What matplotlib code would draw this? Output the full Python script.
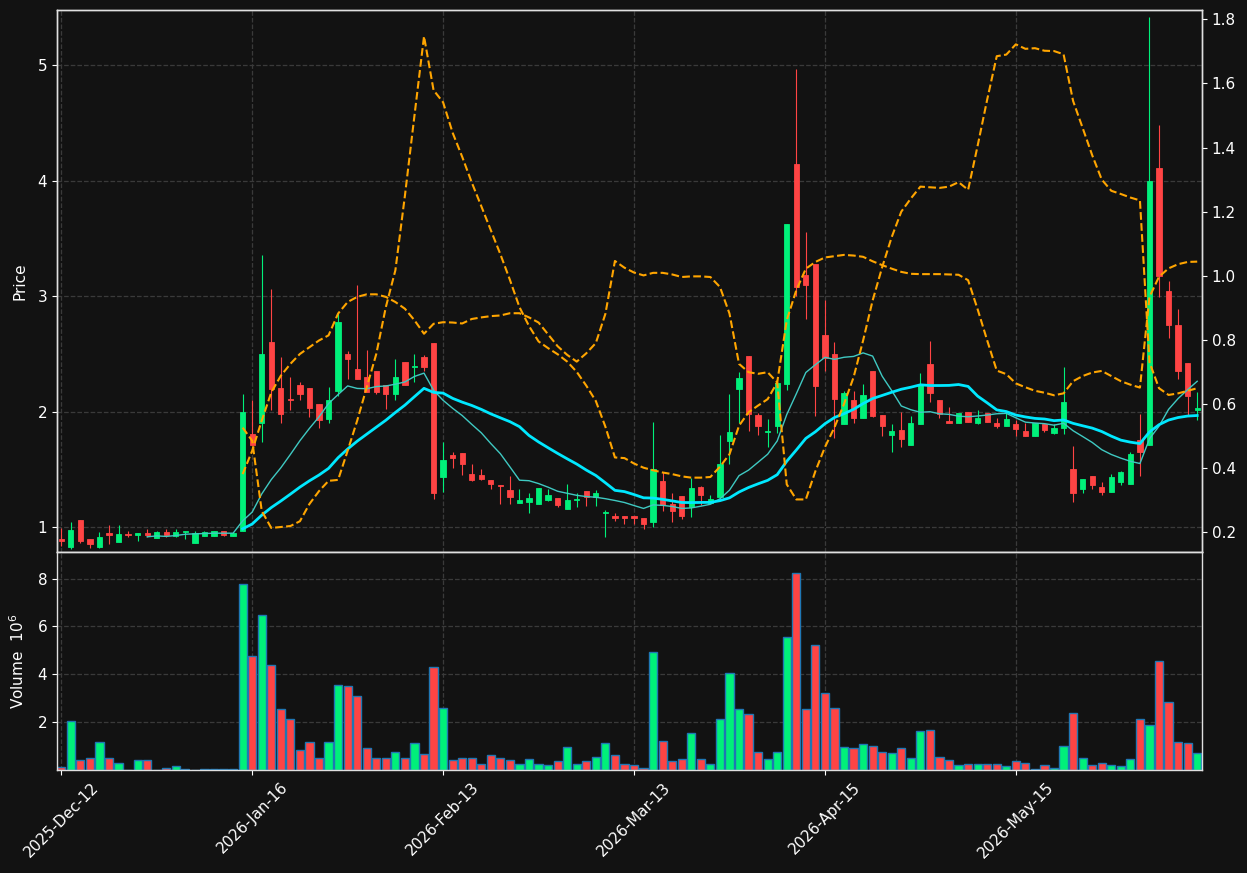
import numpy as np
import pandas as pd
import matplotlib
matplotlib.use("Agg")
import matplotlib.pyplot as plt

# ---------------- data ----------------
tick_labels = ['2025-Dec-12', '2026-Jan-16', '2026-Feb-13', '2026-Mar-13', '2026-Apr-15', '2026-May-15']
tick_bars = [0, 20, 40, 60, 80, 100]

opens = [0.898, 0.828, 1.061, 0.895, 0.828, 0.948, 0.872, 0.939, 0.933, 0.948,
         0.907, 0.956, 0.924, 0.958, 0.863, 0.924, 0.924, 0.965, 0.924, 0.968,
         1.808, 1.898, 2.605, 2.206, 2.105, 2.232, 2.206, 2.068, 1.938, 2.180,
         2.501, 2.371, 2.302, 2.354, 2.232, 2.157, 2.431, 2.388, 2.475, 2.596,
         1.439, 1.621, 1.642, 1.462, 1.448, 1.412, 1.362, 1.324, 1.206, 1.215,
         1.200, 1.236, 1.253, 1.159, 1.233, 1.312, 1.265, 1.121, 1.097, 1.097,
         1.097, 1.081, 1.046, 1.401, 1.202, 1.271, 1.173, 1.346, 1.207, 1.265,
         1.749, 2.196, 2.481, 1.968, 1.824, 1.879, 2.242, 4.141, 3.179, 3.277,
         2.663, 2.499, 1.893, 2.101, 1.948, 2.352, 1.971, 1.801, 1.841, 1.715,
         1.896, 2.412, 2.101, 1.919, 1.899, 1.994, 1.905, 1.986, 1.899, 1.879,
         1.893, 1.835, 1.790, 1.895, 1.814, 1.856, 1.502, 1.333, 1.441, 1.348,
         1.306, 1.393, 1.378, 1.754, 1.715, 4.111, 3.042, 2.748, 2.417, 2.015]
highs = [0.994, 1.049, 1.061, 0.895, 0.959, 1.023, 1.023, 0.971, 0.948, 0.988,
         0.965, 0.983, 0.988, 0.965, 0.965, 0.965, 0.965, 0.965, 0.948, 2.157,
         2.102, 3.358, 3.061, 2.472, 2.296, 2.261, 2.206, 2.068, 2.212, 2.853,
         2.521, 3.095, 2.532, 2.354, 2.232, 2.457, 2.431, 2.498, 2.492, 2.596,
         1.736, 1.651, 1.642, 1.548, 1.501, 1.412, 1.362, 1.445, 1.327, 1.295,
         1.339, 1.333, 1.253, 1.371, 1.295, 1.312, 1.324, 1.147, 1.127, 1.097,
         1.097, 1.081, 1.908, 1.476, 1.294, 1.271, 1.424, 1.357, 1.282, 1.798,
         2.150, 2.340, 2.481, 1.991, 1.934, 2.274, 3.622, 4.968, 3.556, 3.277,
         2.965, 2.599, 2.182, 2.179, 2.236, 2.352, 1.971, 1.890, 1.994, 1.965,
         2.331, 2.608, 2.101, 2.043, 1.988, 1.994, 2.017, 1.986, 1.948, 1.986,
         1.928, 1.901, 1.904, 1.895, 1.895, 2.390, 1.700, 1.414, 1.441, 1.393,
         1.459, 1.483, 1.649, 1.976, 5.414, 4.480, 3.132, 2.892, 2.417, 2.174]
lows = [0.837, 0.814, 0.863, 0.823, 0.820, 0.855, 0.872, 0.913, 0.881, 0.913,
        0.907, 0.913, 0.916, 0.898, 0.863, 0.924, 0.924, 0.924, 0.924, 0.968,
        1.713, 1.736, 2.013, 1.900, 2.013, 2.100, 1.958, 1.857, 1.900, 2.137,
        2.279, 2.284, 2.172, 2.152, 2.022, 2.102, 2.235, 2.253, 2.348, 1.248,
        1.309, 1.512, 1.454, 1.404, 1.406, 1.333, 1.200, 1.200, 1.206, 1.124,
        1.200, 1.230, 1.171, 1.159, 1.177, 1.186, 1.186, 0.912, 1.053, 1.029,
        1.030, 0.983, 1.000, 1.144, 1.046, 1.069, 1.092, 1.193, 1.207, 1.265,
        1.548, 1.899, 1.836, 1.795, 1.697, 1.813, 2.184, 3.000, 2.798, 1.963,
        2.350, 1.769, 1.890, 1.899, 1.948, 1.951, 1.792, 1.654, 1.692, 1.715,
        1.896, 2.086, 1.942, 1.899, 1.899, 1.914, 1.893, 1.914, 1.859, 1.879,
        1.790, 1.790, 1.790, 1.820, 1.811, 1.811, 1.219, 1.300, 1.330, 1.276,
        1.306, 1.369, 1.378, 1.447, 1.715, 2.990, 2.637, 2.279, 1.970, 1.925]
closes = [0.878, 0.974, 0.878, 0.855, 0.913, 0.930, 0.939, 0.930, 0.948, 0.930,
          0.956, 0.930, 0.956, 0.965, 0.948, 0.956, 0.965, 0.933, 0.948, 2.000,
          1.713, 2.501, 2.198, 1.984, 2.099, 2.149, 2.036, 1.924, 2.100, 2.778,
          2.460, 2.284, 2.172, 2.172, 2.149, 2.302, 2.235, 2.397, 2.388, 1.297,
          1.586, 1.595, 1.545, 1.412, 1.415, 1.371, 1.356, 1.259, 1.236, 1.253,
          1.339, 1.280, 1.194, 1.236, 1.239, 1.265, 1.297, 1.133, 1.082, 1.077,
          1.077, 1.029, 1.501, 1.193, 1.144, 1.098, 1.340, 1.282, 1.248, 1.548,
          1.824, 2.288, 1.980, 1.876, 1.836, 2.245, 3.622, 3.078, 3.095, 2.222,
          2.461, 2.112, 2.161, 1.948, 2.144, 1.965, 1.879, 1.833, 1.767, 1.899,
          2.239, 2.164, 1.980, 1.899, 1.988, 1.914, 1.945, 1.914, 1.879, 1.934,
          1.853, 1.790, 1.904, 1.844, 1.856, 2.081, 1.297, 1.414, 1.366, 1.306,
          1.438, 1.474, 1.631, 1.652, 3.997, 3.171, 2.751, 2.351, 2.135, 2.030]
volumes_m = [0.12, 2.03, 0.40, 0.52, 1.19, 0.52, 0.31, 0.02, 0.40, 0.40,
             0.02, 0.10, 0.15, 0.03, 0.02, 0.03, 0.03, 0.03, 0.03, 7.78,
             4.76, 6.46, 4.37, 2.53, 2.11, 0.82, 1.19, 0.49, 1.19, 3.57,
             3.53, 3.11, 0.90, 0.49, 0.49, 0.77, 0.52, 1.11, 0.65, 4.29,
             2.57, 0.40, 0.52, 0.52, 0.23, 0.61, 0.52, 0.40, 0.27, 0.44,
             0.27, 0.19, 0.36, 0.94, 0.23, 0.36, 0.56, 1.11, 0.61, 0.23,
             0.19, 0.10, 4.95, 1.23, 0.36, 0.44, 1.53, 0.48, 0.27, 2.15,
             4.04, 2.53, 2.36, 0.77, 0.48, 0.77, 5.54, 8.22, 2.53, 5.21,
             3.20, 2.57, 0.98, 0.90, 1.07, 1.02, 0.77, 0.73, 0.90, 0.52,
             1.65, 1.69, 0.56, 0.40, 0.19, 0.23, 0.27, 0.23, 0.23, 0.15,
             0.36, 0.31, 0.06, 0.19, 0.10, 1.02, 2.40, 0.52, 0.19, 0.31,
             0.19, 0.15, 0.48, 2.11, 1.90, 4.54, 2.86, 1.19, 1.11, 0.73]

nan = np.nan
indicator_a = [nan] * 19 + [
    0.526, 0.485, 0.266, 0.213, 0.216, 0.219, 0.234, 0.288, 0.328, 0.360, 0.363,
    0.454, 0.548, 0.652, 0.756, 0.902, 1.017, 1.250, 1.500, 1.747, 1.579,
    1.541, 1.446, 1.371, 1.291, 1.217, 1.142, 1.067, 0.987, 0.902, 0.843,
    0.795, 0.774, 0.755, 0.732, 0.700, 0.657, 0.609, 0.529, 0.433, 0.431,
    0.414, 0.401, 0.393, 0.386, 0.381, 0.374, 0.370, 0.370, 0.372, 0.404,
    0.443, 0.532, 0.574, 0.595, 0.615, 0.667, 0.861, 0.955, 1.022, 1.043,
    1.057, 1.061, 1.065, 1.063, 1.059, 1.045, 1.033, 1.022, 1.012, 1.006,
    1.005, 1.005, 1.005, 1.004, 1.003, 0.986, 0.895, 0.798, 0.704, 0.693,
    0.664, 0.652, 0.641, 0.635, 0.627, 0.633, 0.671, 0.687, 0.698, 0.703,
    0.687, 0.671, 0.660, 0.651, 0.934, 0.997, 1.023, 1.036, 1.043, 1.044]
indicator_b = [nan] * 19 + [
    0.381, 0.454, 0.548, 0.636, 0.688, 0.725, 0.756, 0.777, 0.798, 0.814, 0.882,
    0.918, 0.934, 0.942, 0.942, 0.934, 0.918, 0.897, 0.861, 0.819, 0.850,
    0.855, 0.854, 0.851, 0.865, 0.870, 0.874, 0.876, 0.883, 0.883, 0.870,
    0.854, 0.817, 0.780, 0.753, 0.732, 0.758, 0.790, 0.881, 1.046, 1.025,
    1.010, 1.001, 1.009, 1.009, 1.004, 0.996, 0.998, 0.998, 0.996, 0.965,
    0.882, 0.725, 0.699, 0.694, 0.699, 0.667, 0.349, 0.302, 0.302, 0.390,
    0.465, 0.527, 0.600, 0.683, 0.798, 0.923, 1.027, 1.121, 1.200, 1.241,
    1.278, 1.276, 1.274, 1.278, 1.292, 1.268, 1.406, 1.550, 1.685, 1.690,
    1.722, 1.708, 1.710, 1.702, 1.701, 1.691, 1.545, 1.461, 1.376, 1.300,
    1.265, 1.255, 1.244, 1.235, 0.730, 0.649, 0.628, 0.633, 0.641, 0.649]

mav_windows = [10, 20]

# ---------------- styling ----------------
BG = '#121212'
UP = '#00f07a'
DOWN = '#ff4444'
GRID = '#3a3a3a'
FG = 'white'

df = pd.DataFrame({'Open': opens, 'High': highs, 'Low': lows, 'Close': closes,
                   'Volume': volumes_m})
x = np.arange(len(df))
up = df['Close'] >= df['Open']
colors = np.where(up, UP, DOWN)

fig = plt.figure(figsize=(12.47, 8.73), dpi=100, facecolor=BG)
ax = fig.add_axes([0.0457, 0.3677, 0.9182, 0.6208])
axv = fig.add_axes([0.0457, 0.118, 0.9182, 0.2497], sharex=ax)
ax2 = ax.twinx()

for a in (ax, axv, ax2):
    a.set_facecolor(BG)
    for s in a.spines.values():
        s.set_color('#e0e0e0')
        s.set_linewidth(1.0)
    a.tick_params(colors=FG, labelsize=11, labelcolor=FG)

# candles
ax.vlines(x, df['Low'], df['High'], colors=colors, linewidth=0.8, zorder=2)
body_bottom = np.minimum(df['Open'], df['Close'])
body_height = np.maximum(np.abs(df['Close'] - df['Open']), 0.008)
ax.bar(x, body_height, bottom=body_bottom, width=0.55, color=colors,
       edgecolor=colors, linewidth=0.6, zorder=3)

# moving averages
ma_styles = {10: dict(color='#3fc9c2', linewidth=1.0), 20: dict(color='#00e8ff', linewidth=2.0)}
for w in mav_windows:
    ax.plot(x, df['Close'].rolling(w).mean(), zorder=4, **ma_styles[w])

# secondary indicators
ax2.plot(x, indicator_a, color='#ffa500', linestyle='--', linewidth=1.5, zorder=5)
ax2.plot(x, indicator_b, color='#ffa500', linestyle='--', linewidth=1.5, zorder=5)

# volume
axv.bar(x, df['Volume'], width=0.86, color=colors, edgecolor='#1f77b4', linewidth=1.0, zorder=2)

# axes limits & ticks
ax.set_xlim(-0.45, 119.5)
ax.set_ylim(0.786, 5.475)
ax.set_yticks([1, 2, 3, 4, 5])
ax2.set_ylim(0.138, 1.829)
ax2.set_yticks([0.2, 0.4, 0.6, 0.8, 1.0, 1.2, 1.4, 1.6, 1.8])
axv.set_ylim(0, 9.11)
axv.set_yticks([2, 4, 6, 8])

axv.set_xticks(tick_bars)
axv.set_xticklabels(tick_labels, rotation=45, ha='center', color=FG, fontsize=11)
plt.setp(ax.get_xticklabels(), visible=False)
ax.tick_params(axis='x', length=0)

for a in (ax, axv):
    a.grid(True, color=GRID, linestyle='--', linewidth=0.9)
    a.set_axisbelow(True)

ax.set_ylabel('Price', color=FG, fontsize=11)
axv.set_ylabel('Volume  $10^{6}$', color=FG, fontsize=11)
ax.yaxis.set_label_coords(-0.026, 0.5)
axv.yaxis.set_label_coords(-0.026, 0.5)

fig.savefig('out.png', dpi=100, facecolor=BG)
